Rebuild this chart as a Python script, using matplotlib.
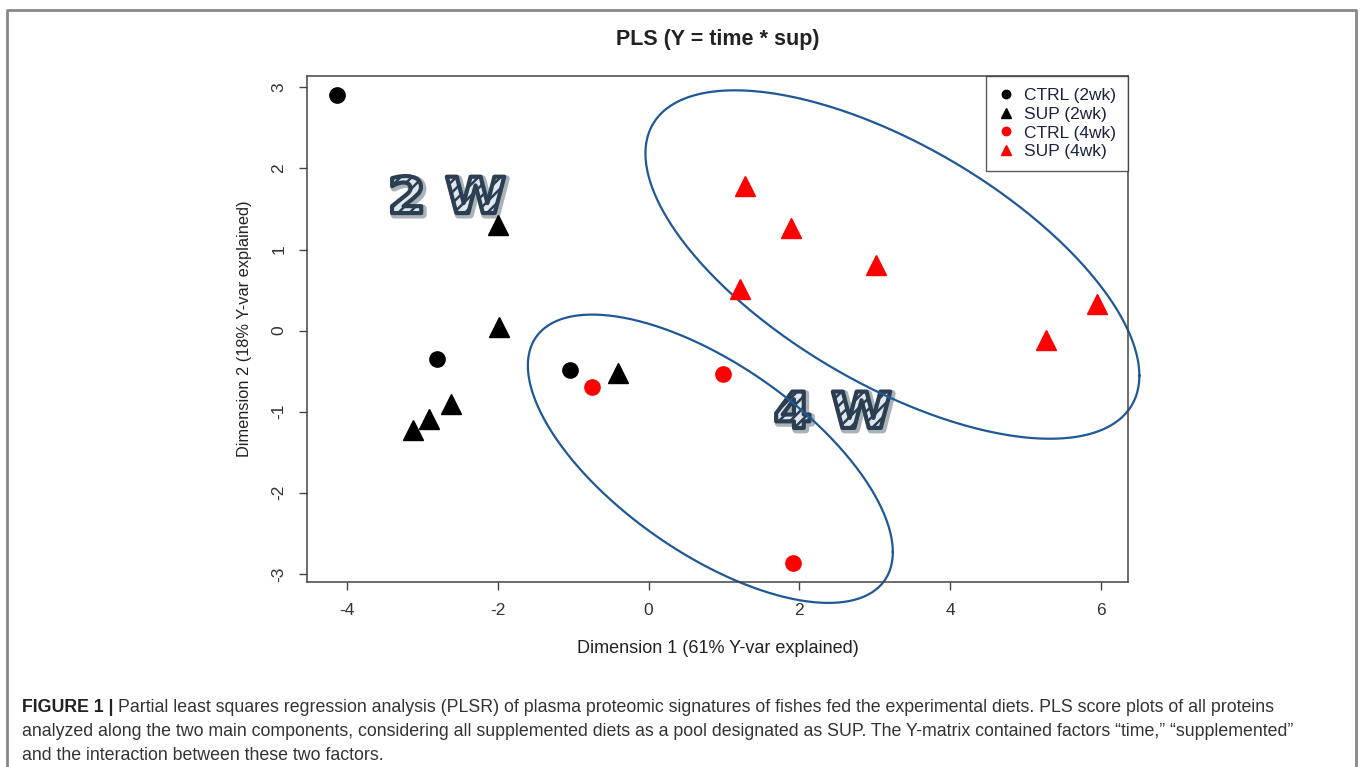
import numpy as np
import matplotlib
matplotlib.use("Agg")
import matplotlib.pyplot as plt
from matplotlib.textpath import TextPath
from matplotlib.patches import PathPatch
from matplotlib.font_manager import FontProperties
from matplotlib.lines import Line2D
from matplotlib import transforms

plt.rcParams['font.family'] = ['Liberation Sans', 'DejaVu Sans']
plt.rcParams['axes.unicode_minus'] = False
plt.rcParams['hatch.linewidth'] = 1.8

# scores
ctrl2_x = [-4.13, -2.81, -1.04]
ctrl2_y = [2.91, -0.35, -0.48]
sup2_x = [-2.00, -1.98, -2.62, -2.91, -3.12, -0.41]
sup2_y = [1.30, 0.05, -0.90, -1.09, -1.23, -0.52]
ctrl4_x = [-0.75, 0.99, 1.91]
ctrl4_y = [-0.70, -0.54, -2.86]
sup4_x = [1.28, 1.89, 3.02, 1.22, 5.27, 5.95]
sup4_y = [1.78, 1.27, 0.81, 0.51, -0.12, 0.33]

# grouping ellipses: centre and shape matrix (data units)
ell_4w_center = [0.82, -1.58]
ell_4w_shape = [[5.858, -2.784], [-2.784, 3.160]]
ell_sup_center = [3.235, 0.815]
ell_sup_shape = [[10.73, -4.487], [-4.487, 4.615]]

xticks = [-4, -2, 0, 2, 4, 6]
yticks = [-3, -2, -1, 0, 1, 2, 3]

fig = plt.figure(figsize=(13.6, 7.67), dpi=100)
W, H = 1360, 767
ax = fig.add_axes([307 / W, 1 - 582 / H, (1128 - 307) / W, (582 - 76) / H])
ax.set_xlim(-4.53, 6.36)
ax.set_ylim(-3.10, 3.14)

tri = 14
ax.plot(ctrl2_x, ctrl2_y, 'o', color='black', ms=11, ls='none', label='CTRL (2wk)', zorder=3)
ax.plot(sup2_x, sup2_y, '^', color='black', ms=tri, ls='none', label='SUP (2wk)', zorder=3)
ax.plot(ctrl4_x, ctrl4_y, 'o', color='red', ms=11, ls='none', label='CTRL (4wk)', zorder=3)
ax.plot(sup4_x, sup4_y, '^', color='red', ms=tri, ls='none', label='SUP (4wk)', zorder=3)

t = np.linspace(0, 2 * np.pi, 400)
for c, s in [(ell_4w_center, ell_4w_shape), (ell_sup_center, ell_sup_shape)]:
    L = np.linalg.cholesky(np.array(s))
    pts = L @ np.vstack([np.cos(t), np.sin(t)])
    ax.plot(c[0] + pts[0], c[1] + pts[1], color='#1f5896', lw=1.6, clip_on=False, zorder=2)

ax.set_xticks(xticks)
ax.set_yticks(yticks)
ax.tick_params(axis='both', direction='out', length=6, width=1, color='#444444',
               labelsize=12.5, labelcolor='#333333', pad=9)
for lab in ax.get_yticklabels():
    lab.set_rotation(90)
    lab.set_va('center')
for sp in ax.spines.values():
    sp.set_color('#444444')
    sp.set_linewidth(1.1)

ax.set_xlabel('Dimension 1 (61% Y-var explained)', fontsize=13, color='#222222', labelpad=16)
ax.set_ylabel('Dimension 2 (18% Y-var explained)', fontsize=11.8, color='#222222', labelpad=14)
ax.set_title('PLS (Y = time * sup)', fontsize=15.5, fontweight='bold', color='#222222', pad=22)

leg = ax.legend(loc='upper right', borderaxespad=0, markerscale=0.55, fontsize=12.5,
                frameon=True, fancybox=False, handlelength=1.0, handletextpad=0.5,
                labelspacing=0.2, borderpad=0.7)
leg.get_frame().set_edgecolor('#333333')
leg.get_frame().set_linewidth(1.0)
for txt in leg.get_texts():
    txt.set_color('#1c2240')

# hatched "2 W" / "4 W" labels
fp = FontProperties(family='DejaVu Sans', weight='bold', style='normal')
fig.canvas.draw()
for label, (lx, ly) in [('2 W', (-3.46, 1.45)), ('4 W', (1.66, -1.20))]:
    tp = TextPath((0, 0), label, size=58, prop=fp)
    px, py = ax.transData.transform((lx, ly))
    tr = transforms.Affine2D().scale(0.95, 0.86).translate(px, py)
    shadow = PathPatch(tp, transform=transforms.Affine2D().scale(0.95, 0.86).translate(px + 2, py - 2),
                       facecolor='#aab2ba', edgecolor='#aab2ba', lw=5, joinstyle='round', zorder=1)
    base = PathPatch(tp, transform=tr, facecolor='#dfe7ef', edgecolor='#2c3e52', lw=3.0,
                     joinstyle='round', hatch='///', zorder=1.5)
    for p in (shadow, base):
        fig.add_artist(p)
# keep the axes (points) drawn above the labels
ax.set_zorder(2)
ax.patch.set_alpha(0)

# outer frame (open at bottom)
fig.add_artist(Line2D([7 / W, 7 / W, 1356 / W, 1356 / W], [0, 1 - 10 / H, 1 - 10 / H, 0],
                      transform=fig.transFigure, color='#888888', lw=2))

# caption
cap_size = 12.8
renderer = fig.canvas.get_renderer()
b = fig.text(22 / W, 1 - 707 / H, 'FIGURE 1 |', fontsize=cap_size, fontweight='bold',
             color='#222222', va='center')
bb = b.get_window_extent(renderer)
fig.text(bb.x1 / W + 5 / W, 1 - 707 / H,
         'Partial least squares regression analysis (PLSR) of plasma proteomic signatures of fishes fed the experimental diets. PLS score plots of all proteins',
         fontsize=cap_size, color='#333333', va='center')
fig.text(22 / W, 1 - 731 / H,
         'analyzed along the two main components, considering all supplemented diets as a pool designated as SUP. The Y-matrix contained factors \u201ctime,\u201d \u201csupplemented\u201d',
         fontsize=cap_size, color='#333333', va='center')
fig.text(22 / W, 1 - 755 / H, 'and the interaction between these two factors.',
         fontsize=cap_size, color='#333333', va='center')

fig.savefig('out.png', dpi=100)
